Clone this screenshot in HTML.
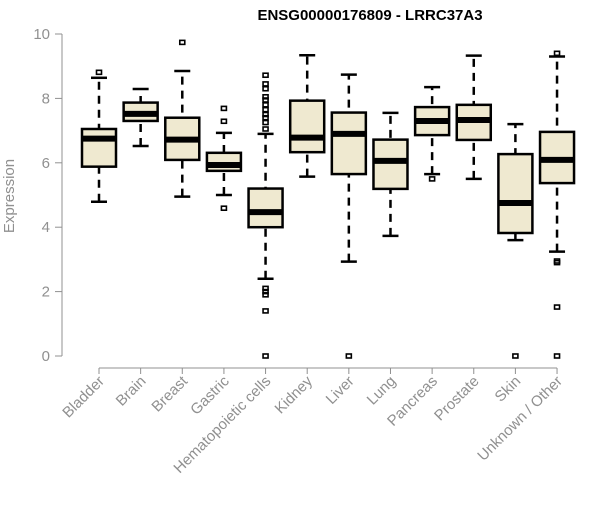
<!DOCTYPE html>
<html><head><meta charset="utf-8"><style>
body{margin:0;background:#fff;font-family:"Liberation Sans",sans-serif}
</style></head><body>
<svg id="chart" width="600" height="500" xmlns="http://www.w3.org/2000/svg">
<text x="370" y="20" text-anchor="middle" font-weight="bold" font-size="15" fill="#000">ENSG00000176809 - LRRC37A3</text>
<text transform="translate(14,196) rotate(-90)" text-anchor="middle" font-size="15" fill="#909090">Expression</text>
<g id="plot"></g>
</svg>
<script>
const categories=["Bladder","Brain","Breast","Gastric","Hematopoietic cells","Kidney","Liver","Lung","Pancreas","Prostate","Skin","Unknown / Other"];
const whiskerLow=[4.79,6.52,4.95,5.0,2.4,5.57,2.93,3.73,5.65,5.5,3.6,3.24];
const q1=[5.88,7.3,6.09,5.75,4.0,6.33,5.65,5.19,6.86,6.71,3.82,5.37];
const median=[6.75,7.52,6.72,5.93,4.47,6.78,6.9,6.06,7.3,7.33,4.75,6.09];
const q3=[7.05,7.87,7.4,6.31,5.2,7.93,7.56,6.72,7.73,7.8,6.27,6.96];
const whiskerHigh=[8.64,8.29,8.85,6.93,6.9,9.34,8.74,7.55,8.35,9.33,7.2,9.3];
const outliers=[[8.81],[],[9.74],[7.69,7.29,4.59],[8.72,8.45,8.3,8.05,7.95,7.8,7.65,7.5,7.4,7.25,7.05,2.1,2.0,1.9,1.4,0],[],[0],[],[5.5],[],[0],[9.4,2.95,2.9,1.52,0]];
const yTicks=[0,2,4,6,8,10];
const NS="http://www.w3.org/2000/svg";
const g=document.getElementById('plot');
const y=v=>356-v*32.2;
const x=i=>99+i*41.64;
function mk(t,a){const e=document.createElementNS(NS,t);for(const k in a)e.setAttribute(k,a[k]);g.appendChild(e);return e;}
let ax=mk('line',{x1:62,x2:62,y1:y(0),y2:y(10),stroke:'#909090'});


yTicks.forEach(t=>{
 let l=mk('line',{x1:55,x2:62,y1:y(t),y2:y(t),stroke:'#909090'});
 
 
 let tx=mk('text',{x:50,y:y(t)+5,'text-anchor':'end','font-size':15,fill:'#909090'});
 tx.textContent=t;
 
 
});
let xa=mk('line',{x1:x(0),x2:x(11),y1:368,y2:368,stroke:'#909090'});


const hw=17;
categories.forEach((c,i)=>{
 const cx=x(i);
 let tk=mk('line',{x1:cx,x2:cx,y1:368,y2:374,stroke:'#909090'});
 
 
 let lb=mk('text',{transform:`translate(${cx+6},${382}) rotate(-45)`,'text-anchor':'end','font-size':15,fill:'#909090'});
 lb.textContent=c;
 
 
 let w=mk('line',{x1:cx,x2:cx,y1:y(whiskerLow[i]),y2:y(whiskerHigh[i]),stroke:'#000','stroke-width':2.5,'stroke-dasharray':'8,6'});
 
 
 [whiskerLow[i],whiskerHigh[i]].forEach(v=>{
  let cap=mk('line',{x1:cx-8,x2:cx+8,y1:y(v),y2:y(v),stroke:'#000','stroke-width':2.5});
  
  
 });
 let b=mk('rect',{x:cx-hw,y:y(q3[i]),width:2*hw,height:y(q1[i])-y(q3[i]),fill:'#efe9d0',stroke:'#000','stroke-width':2.5});
 
 
 let m=mk('line',{x1:cx-hw,x2:cx+hw,y1:y(median[i]),y2:y(median[i]),stroke:'#000','stroke-width':6});
 
 
 outliers[i].forEach(v=>{
  let o=mk('rect',{x:cx-2.5,y:y(v)-2,width:5,height:4,fill:'none',stroke:'#000','stroke-width':1.6});
  
  
 });
});
</script>
</body></html>
